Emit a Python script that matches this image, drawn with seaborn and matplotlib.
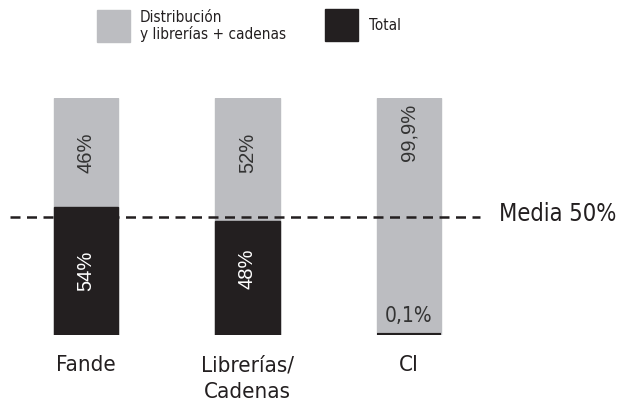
import matplotlib
matplotlib.use("Agg")
import matplotlib.pyplot as plt
import matplotlib.patches as mpatches
import seaborn as sns
import pandas as pd

# Datos
categorias = ["Fande", "Librerías/\nCadenas", "CI"]
total = [54, 48, 0.1]
distribucion = [46, 52, 99.9]
etiq_total = ["54%", "48%", "0,1%"]
etiq_dist = ["46%", "52%", "99,9%"]
media = 50

GRIS = "#bcbdc1"
NEGRO = "#231f20"
COND = dict(family="DejaVu Sans", stretch="condensed")

sns.set_style("white")
plt.rcParams["font.family"] = ["Liberation Sans", "DejaVu Sans"]

df = pd.DataFrame({
    "cat": categorias,
    "total": total,
    "suma": [t + d for t, d in zip(total, distribucion)],
})

fig = plt.figure(figsize=(6.22, 4.07), dpi=100)
ax = fig.add_axes([0, 0.177, 1, 0.582])

sns.barplot(data=df, x="cat", y="suma", color=GRIS, width=0.40,
            saturation=1, edgecolor=GRIS, linewidth=1, ax=ax)
sns.barplot(data=df, x="cat", y="total", color=NEGRO, width=0.40,
            saturation=1, edgecolor=NEGRO, linewidth=1, ax=ax)
# la barra de 0,1% casi no se ve: grosor mínimo
for p in ax.patches:
    if 0 < p.get_height() < 1:
        p.set_linewidth(3)

ax.set_xlim(-0.532, 3.319)
ax.set_ylim(0, 100)
ax.axis("off")

# linea de media
ax.hlines(media, -0.47, 2.44, colors=NEGRO, linestyles=(0, (4, 2.6)),
          linewidth=1.8)
ax.text(2.56, media + 1, f"Media {media}%", fontsize=17, va="center",
        ha="left", color=NEGRO, **COND)

# etiquetas
for i, (t, d) in enumerate(zip(total, distribucion)):
    if t >= 5:
        ax.text(i, 27 + (i * 1), etiq_total[i], rotation=90, ha="center",
                va="center", color="white", fontsize=14.5)
        ax.text(i, 77, etiq_dist[i], rotation=90, ha="center",
                va="center", color="#333333", fontsize=14.5)
    else:
        ax.text(i, 8, etiq_total[i], ha="center", va="center",
                color="#333333", fontsize=15, **COND)
        ax.text(i, 85.6, etiq_dist[i], rotation=90, ha="center",
                va="center", color="#333333", fontsize=14.5)

# categorias
for i, c in enumerate(categorias):
    ax.text(i, -8.5, c, ha="center", va="top", fontsize=16,
            color=NEGRO, linespacing=1.45, **COND)

# leyenda
fig.patches.append(mpatches.Rectangle((97 / 622, 1 - 42 / 407), 33 / 622,
                                      32 / 407, transform=fig.transFigure,
                                      color=GRIS))
fig.patches.append(mpatches.Rectangle((325 / 622, 1 - 41 / 407), 33 / 622,
                                      32 / 407, transform=fig.transFigure,
                                      color=NEGRO))
fig.text(140 / 622, 1 - 26 / 407, "Distribución\ny librerías + cadenas",
         fontsize=11, va="center", ha="left", color=NEGRO, linespacing=1.15,
         **COND)
fig.text(369 / 622, 1 - 25 / 407, "Total", fontsize=11, va="center",
         ha="left", color=NEGRO, **COND)

fig.savefig("out.png", dpi=100)
